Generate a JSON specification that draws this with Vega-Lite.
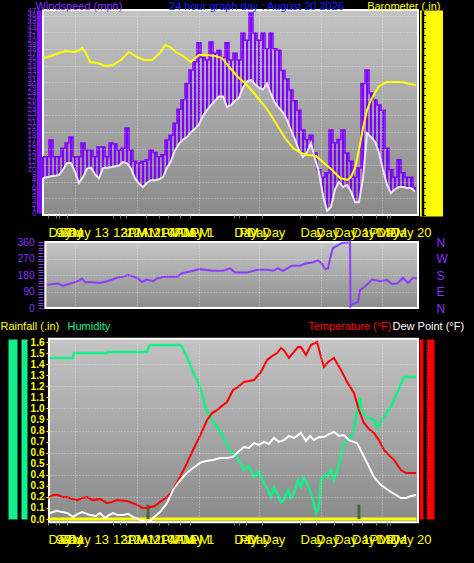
{
"$schema": "https://vega.github.io/schema/vega-lite/v6.json",
"width": 375, "height": 563,
"autosize": "none",
"padding": {"left": 43, "right": 56, "top": 0, "bottom": 0},
"background": "#000000",
"config": {"view": {"stroke": null}, "axis": {"labelFont": "Liberation Sans", "titleFont": "Liberation Sans", "titleFontWeight": "normal", "labelOverlap": false, "labelFlush": false, "labelBound": false, "grid": false}},
"datasets": {
"wind": [
{"h":0,"avg":8.1,"gust":13},{"h":0.26,"avg":8.3,"gust":13},{"h":0.51,"avg":8.5,"gust":16.9},{"h":0.77,"avg":8.6,"gust":13},{"h":1.02,"avg":8.8,"gust":13},{"h":1.28,"avg":10,"gust":15},{"h":1.54,"avg":11.6,"gust":16.2},{"h":1.79,"avg":11.6,"gust":17.6},{"h":2.05,"avg":9.5,"gust":13},{"h":2.3,"avg":7,"gust":13},{"h":2.56,"avg":8.3,"gust":16.2},{"h":2.82,"avg":10.3,"gust":14.6},{"h":3.07,"avg":10.5,"gust":14.6},{"h":3.33,"avg":9,"gust":13},{"h":3.58,"avg":8,"gust":15.3},{"h":3.84,"avg":10.4,"gust":15.3},{"h":4.1,"avg":10.5,"gust":13},{"h":4.35,"avg":10.6,"gust":16.2},{"h":4.61,"avg":10.8,"gust":16},{"h":4.86,"avg":11,"gust":14.6},{"h":5.12,"avg":11.8,"gust":15},{"h":5.38,"avg":11.5,"gust":19.7},{"h":5.63,"avg":10.3,"gust":14.6},{"h":5.89,"avg":8,"gust":12},{"h":6.14,"avg":6.8,"gust":11.6},{"h":6.4,"avg":6,"gust":12},{"h":6.66,"avg":7,"gust":12.3},{"h":6.91,"avg":7.6,"gust":14.6},{"h":7.17,"avg":7.6,"gust":14},{"h":7.42,"avg":7.8,"gust":13},{"h":7.68,"avg":8.3,"gust":13.5},{"h":7.94,"avg":10.5,"gust":16.9},{"h":8.19,"avg":12,"gust":18},{"h":8.45,"avg":14.5,"gust":20.8},{"h":8.7,"avg":16,"gust":24},{"h":8.96,"avg":17,"gust":26.2},{"h":9.22,"avg":17.6,"gust":30},{"h":9.47,"avg":18.7,"gust":33.1},{"h":9.73,"avg":19.5,"gust":35},{"h":9.98,"avg":20.5,"gust":39.4},{"h":10.24,"avg":22.5,"gust":36},{"h":10.5,"avg":23.8,"gust":35.4},{"h":10.75,"avg":25,"gust":39.6},{"h":11.01,"avg":26,"gust":37},{"h":11.26,"avg":27,"gust":37.7},{"h":11.52,"avg":27,"gust":36},{"h":11.78,"avg":24.5,"gust":39.4},{"h":12.03,"avg":25,"gust":35.4},{"h":12.29,"avg":26,"gust":37},{"h":12.54,"avg":26.7,"gust":35.4},{"h":12.8,"avg":29,"gust":41.7},{"h":13.06,"avg":30.5,"gust":40},{"h":13.31,"avg":30.8,"gust":46.3},{"h":13.57,"avg":29.8,"gust":41.7},{"h":13.82,"avg":29,"gust":40},{"h":14.08,"avg":28.6,"gust":41.7},{"h":14.34,"avg":30,"gust":38},{"h":14.59,"avg":27.5,"gust":41.7},{"h":14.85,"avg":25.5,"gust":38},{"h":15.1,"avg":24.3,"gust":37.7},{"h":15.36,"avg":23.3,"gust":33},{"h":15.62,"avg":21.5,"gust":31},{"h":15.87,"avg":19.2,"gust":28.5},{"h":16.13,"avg":17,"gust":26},{"h":16.38,"avg":14.5,"gust":23.8},{"h":16.64,"avg":13,"gust":19.2},{"h":16.9,"avg":14,"gust":17},{"h":17.15,"avg":16.2,"gust":18},{"h":17.41,"avg":12.5,"gust":13.9},{"h":17.66,"avg":9.5,"gust":10},{"h":17.92,"avg":4,"gust":8.3},{"h":18.18,"avg":0.5,"gust":9.3},{"h":18.43,"avg":1.4,"gust":19.2},{"h":18.69,"avg":5.5,"gust":16.2},{"h":18.94,"avg":7.2,"gust":17},{"h":19.2,"avg":6,"gust":19.2},{"h":19.46,"avg":6.5,"gust":13.9},{"h":19.71,"avg":5,"gust":12},{"h":19.97,"avg":2.5,"gust":8.3},{"h":20.22,"avg":2.5,"gust":10.5},{"h":20.48,"avg":8,"gust":30},{"h":20.74,"avg":18.5,"gust":33.1},{"h":20.99,"avg":17.6,"gust":27.8},{"h":21.25,"avg":16.5,"gust":26.2},{"h":21.5,"avg":14,"gust":25},{"h":21.76,"avg":10,"gust":23.8},{"h":22.02,"avg":6.5,"gust":15},{"h":22.27,"avg":4.6,"gust":10},{"h":22.53,"avg":5.5,"gust":8.3},{"h":22.78,"avg":6,"gust":12.3},{"h":23.04,"avg":6,"gust":9.3},{"h":23.3,"avg":5.8,"gust":8.3},{"h":23.55,"avg":5.8,"gust":8.3},{"h":23.81,"avg":5,"gust":6}
],
"baro": [
{"h":0,"b":29.871},{"h":0.51,"b":29.877},{"h":1.02,"b":29.886},{"h":1.47,"b":29.892},{"h":1.98,"b":29.889},{"h":2.37,"b":29.895},{"h":2.5,"b":29.901},{"h":2.75,"b":29.886},{"h":3.01,"b":29.859},{"h":3.52,"b":29.856},{"h":3.97,"b":29.847},{"h":4.48,"b":29.85},{"h":4.99,"b":29.865},{"h":5.5,"b":29.889},{"h":6.02,"b":29.874},{"h":6.46,"b":29.865},{"h":6.98,"b":29.865},{"h":7.49,"b":29.886},{"h":7.81,"b":29.91},{"h":8.13,"b":29.904},{"h":8.51,"b":29.889},{"h":8.96,"b":29.877},{"h":9.47,"b":29.859},{"h":9.98,"b":29.88},{"h":10.5,"b":29.88},{"h":11.01,"b":29.877},{"h":11.46,"b":29.871},{"h":11.97,"b":29.841},{"h":12.48,"b":29.814},{"h":12.99,"b":29.793},{"h":13.5,"b":29.766},{"h":14.02,"b":29.736},{"h":14.46,"b":29.709},{"h":14.98,"b":29.67},{"h":15.49,"b":29.631},{"h":16,"b":29.601},{"h":16.51,"b":29.586},{"h":16.96,"b":29.58},{"h":17.47,"b":29.577},{"h":17.98,"b":29.556},{"h":18.5,"b":29.535},{"h":19.01,"b":29.511},{"h":19.46,"b":29.505},{"h":19.71,"b":29.514},{"h":19.97,"b":29.541},{"h":20.22,"b":29.595},{"h":20.48,"b":29.661},{"h":20.74,"b":29.715},{"h":20.99,"b":29.745},{"h":21.5,"b":29.787},{"h":22.02,"b":29.799},{"h":22.46,"b":29.799},{"h":22.98,"b":29.799},{"h":23.49,"b":29.793},{"h":23.87,"b":29.79}
],
"dir": [
{"h":0.26,"d":127},{"h":0.96,"d":133},{"h":1.28,"d":121},{"h":1.86,"d":136},{"h":2.37,"d":152},{"h":2.5,"d":161},{"h":2.69,"d":140},{"h":3.2,"d":140},{"h":3.65,"d":136},{"h":4.1,"d":146},{"h":4.74,"d":165},{"h":5.12,"d":171},{"h":5.44,"d":180},{"h":6.02,"d":165},{"h":6.34,"d":142},{"h":6.66,"d":155},{"h":7.04,"d":146},{"h":7.3,"d":161},{"h":7.81,"d":171},{"h":8.58,"d":171},{"h":8.9,"d":190},{"h":9.6,"d":203},{"h":10.05,"d":212},{"h":10.88,"d":203},{"h":11.52,"d":203},{"h":11.97,"d":216},{"h":12.29,"d":193},{"h":13.06,"d":193},{"h":13.7,"d":208},{"h":14.34,"d":208},{"h":14.72,"d":203},{"h":15.04,"d":216},{"h":15.36,"d":203},{"h":15.94,"d":231},{"h":16.45,"d":231},{"h":16.77,"d":241},{"h":17.28,"d":250},{"h":17.6,"d":260},{"h":17.86,"d":241},{"h":18.05,"d":212},{"h":18.24,"d":216},{"h":18.37,"d":269},{"h":18.56,"d":326},{"h":19.14,"d":355},{"h":19.65,"d":358},{"h":19.68,"d":8},{"h":19.84,"d":23},{"h":20.16,"d":32},{"h":20.29,"d":99},{"h":20.61,"d":117},{"h":21.06,"d":155},{"h":21.57,"d":146},{"h":22.02,"d":152},{"h":22.34,"d":131},{"h":22.66,"d":133},{"h":23.04,"d":165},{"h":23.36,"d":136},{"h":23.68,"d":165},{"h":23.94,"d":161}
],
"hum": [
{"h":0.45,"rh":90.5},{"h":1.92,"rh":90.5},{"h":1.98,"rh":93},{"h":4.1,"rh":93},{"h":4.16,"rh":93.5},{"h":6.66,"rh":93.5},{"h":6.72,"rh":95},{"h":6.85,"rh":97},{"h":8.77,"rh":97},{"h":8.9,"rh":96},{"h":9.22,"rh":91},{"h":9.54,"rh":84.5},{"h":9.86,"rh":79.5},{"h":10.18,"rh":73},{"h":10.37,"rh":66},{"h":10.69,"rh":61},{"h":11.14,"rh":56},{"h":11.52,"rh":51},{"h":11.97,"rh":44.5},{"h":12.42,"rh":40.5},{"h":12.61,"rh":38},{"h":12.86,"rh":34.5},{"h":13.18,"rh":36.5},{"h":13.5,"rh":31},{"h":13.82,"rh":33.5},{"h":14.14,"rh":28},{"h":14.4,"rh":24.5},{"h":14.59,"rh":21},{"h":14.78,"rh":25.5},{"h":14.98,"rh":23},{"h":15.23,"rh":18.5},{"h":15.42,"rh":19.5},{"h":15.68,"rh":24.5},{"h":15.87,"rh":20.5},{"h":16.06,"rh":23},{"h":16.32,"rh":29.5},{"h":16.51,"rh":26},{"h":16.7,"rh":30.5},{"h":16.9,"rh":28},{"h":17.09,"rh":24.5},{"h":17.22,"rh":21},{"h":17.47,"rh":13},{"h":17.66,"rh":16},{"h":17.79,"rh":29.5},{"h":17.98,"rh":32},{"h":18.18,"rh":31},{"h":18.43,"rh":34.5},{"h":18.62,"rh":29.5},{"h":18.82,"rh":34.5},{"h":19.07,"rh":41},{"h":19.26,"rh":48},{"h":19.71,"rh":51},{"h":19.9,"rh":54.5},{"h":20.03,"rh":61},{"h":20.29,"rh":70.5},{"h":20.42,"rh":63},{"h":20.74,"rh":61},{"h":21.18,"rh":59.5},{"h":21.38,"rh":55.5},{"h":21.7,"rh":59.5},{"h":22.27,"rh":66},{"h":22.66,"rh":73},{"h":23.1,"rh":81},{"h":23.74,"rh":81},{"h":23.87,"rh":81}
],
"temp": [
{"h":0.32,"t":57},{"h":0.64,"t":58},{"h":0.96,"t":58},{"h":1.28,"t":57.3},{"h":1.54,"t":57.3},{"h":1.86,"t":56.7},{"h":2.18,"t":56.3},{"h":2.5,"t":57},{"h":2.82,"t":57.3},{"h":3.2,"t":56.3},{"h":3.65,"t":56.7},{"h":4.1,"t":55.3},{"h":4.42,"t":55.7},{"h":4.74,"t":56.3},{"h":5.38,"t":56},{"h":6.02,"t":54.7},{"h":6.4,"t":53.7},{"h":6.66,"t":53.7},{"h":6.85,"t":54},{"h":7.17,"t":54.3},{"h":7.49,"t":55.7},{"h":7.94,"t":57.3},{"h":8.32,"t":59.7},{"h":8.77,"t":64},{"h":9.22,"t":68.7},{"h":9.6,"t":73},{"h":10.05,"t":77.7},{"h":10.5,"t":83},{"h":10.82,"t":85.3},{"h":11.14,"t":86.3},{"h":11.46,"t":87.7},{"h":11.78,"t":89},{"h":12.16,"t":93},{"h":12.48,"t":94},{"h":12.86,"t":95.7},{"h":13.5,"t":96.3},{"h":13.95,"t":99},{"h":14.34,"t":103},{"h":14.66,"t":104.3},{"h":14.98,"t":105.3},{"h":15.23,"t":107},{"h":15.42,"t":106.3},{"h":15.74,"t":103.7},{"h":16.06,"t":105.7},{"h":16.32,"t":107.3},{"h":16.51,"t":107.3},{"h":16.83,"t":104.7},{"h":17.15,"t":108},{"h":17.54,"t":109},{"h":17.79,"t":104},{"h":17.98,"t":100.7},{"h":18.24,"t":102.3},{"h":18.43,"t":103},{"h":18.62,"t":103.7},{"h":19.07,"t":99.7},{"h":19.46,"t":95.7},{"h":19.9,"t":92},{"h":20.22,"t":86.3},{"h":20.54,"t":82},{"h":20.86,"t":80},{"h":21.18,"t":78.7},{"h":21.5,"t":76.3},{"h":21.82,"t":73},{"h":22.14,"t":71.3},{"h":22.46,"t":69.7},{"h":22.91,"t":66.3},{"h":23.23,"t":65.3},{"h":23.87,"t":65.3}
],
"dew": [
{"h":0.45,"dp":52},{"h":0.9,"dp":52.7},{"h":1.22,"dp":52.3},{"h":1.54,"dp":52},{"h":1.92,"dp":50.7},{"h":2.24,"dp":51.7},{"h":2.5,"dp":52.3},{"h":3.01,"dp":51.3},{"h":3.39,"dp":51},{"h":3.65,"dp":52},{"h":3.97,"dp":50.3},{"h":4.22,"dp":51.3},{"h":4.48,"dp":52},{"h":4.8,"dp":51.3},{"h":5.12,"dp":51.3},{"h":5.44,"dp":51.7},{"h":5.76,"dp":50.7},{"h":6.21,"dp":49.7},{"h":6.66,"dp":49},{"h":6.85,"dp":49.3},{"h":7.04,"dp":50.3},{"h":7.49,"dp":52.3},{"h":7.94,"dp":55.3},{"h":8.32,"dp":59.7},{"h":8.64,"dp":62},{"h":8.96,"dp":64},{"h":9.28,"dp":65.7},{"h":9.6,"dp":67},{"h":10.05,"dp":68.7},{"h":10.43,"dp":69.3},{"h":10.88,"dp":69.7},{"h":11.33,"dp":70.3},{"h":11.78,"dp":70.3},{"h":12.16,"dp":70.7},{"h":12.48,"dp":72.3},{"h":12.86,"dp":74},{"h":13.18,"dp":73.7},{"h":13.5,"dp":75.3},{"h":13.82,"dp":74.7},{"h":14.14,"dp":75.7},{"h":14.46,"dp":75},{"h":14.78,"dp":77},{"h":15.1,"dp":75.7},{"h":15.42,"dp":76.3},{"h":15.74,"dp":77.7},{"h":16.06,"dp":77},{"h":16.51,"dp":78.7},{"h":16.83,"dp":76},{"h":17.09,"dp":77.7},{"h":17.34,"dp":76.3},{"h":17.66,"dp":77.3},{"h":17.98,"dp":77.3},{"h":18.3,"dp":78.3},{"h":18.62,"dp":79},{"h":18.94,"dp":77.7},{"h":19.26,"dp":78},{"h":19.58,"dp":76.3},{"h":20.1,"dp":75.3},{"h":20.42,"dp":72},{"h":20.74,"dp":68.7},{"h":21.18,"dp":64},{"h":21.63,"dp":61.3},{"h":22.27,"dp":59},{"h":22.91,"dp":57},{"h":23.23,"dp":57},{"h":23.55,"dp":57.7},{"h":23.87,"dp":58}
],
"rain": [{"h":0.4,"r":0},{"h":23.9,"r":0}],
"rainrate": [{"h":6.72,"r":0.13},{"h":20.22,"r":0.13}]
},
"layer": [
{"data": {"values": [{}]},
"mark": {"type": "rect", "fill": {"gradient": "linear", "x1": 0, "y1": 0, "x2": 0, "y2": 1, "stops": [{"offset": 0, "color": "#c3c3c3"}, {"offset": 1, "color": "#8a8a8a"}]}, "stroke": "#ffffff", "strokeWidth": 2},
"encoding": {
"x": {"datum": 0, "type": "quantitative", "scale": {"domain": [0, 24], "nice": false, "zero": false},
"axis": {"orient": "bottom", "offset": -348, "values": [0.32,0.8,1.05,1.55,4.45,4.95,5.3,6.6,7.45,8,8.75,9.4,12.2,12.55,13,14,16.45,17.45,18.6,19.75,20.4,21.3,22,22.2], "labelExpr": "['Day','9PM','Day','Day 13','12AM','3PM','12AM','12PM','10PM','4AM','Day 1','PM','Day','PM','Day','Day','Day','Day','Day','Day','1PM','Day','PM','Day 20'][indexof([0.32,0.8,1.05,1.55,4.45,4.95,5.3,6.6,7.45,8,8.75,9.4,12.2,12.55,13,14,16.45,17.45,18.6,19.75,20.4,21.3,22,22.2], datum.value)]", "labelColor": "#ffff00", "labelFontSize": 13, "labelAlign": "left", "labelBaseline": "top", "labelPadding": 8, "ticks": true, "tickColor": "#808080", "tickSize": 3, "domain": false, "grid": false, "title": null, "zindex": 1}},
"x2": {"datum": 24},
"y": {"datum": 0, "type": "quantitative", "scale": {"domain": [0, 12.35], "range": [215, 10], "nice": false, "zero": false},
"axis": {"orient": "left", "values": [1,2,3,4,5,6,7,8,9,10,11,12], "labels": false, "ticks": false, "domain": false, "grid": true, "gridColor": "#ffffff", "gridOpacity": 0.5, "gridDash": [1, 2], "title": "24 hour graph day : August 20 2026", "titleAngle": 0, "titleX": 213, "titleY": 6, "titleAlign": "center", "titleBaseline": "middle", "titleColor": "#1c1cff", "titleFontSize": 11, "zindex": 1}},
"y2": {"datum": 12.35}
}},
{"data": {"name": "wind"},
"mark": {"type": "rule", "color": "#8000ff", "strokeWidth": 2.2},
"encoding": {
"x": {"field": "h", "type": "quantitative", "scale": {"domain": [0, 24], "nice": false, "zero": false},
"axis": {"orient": "top", "offset": 0, "values": [2.05,6.02,10,13.85,17.8,21.7], "labels": false, "ticks": false, "domain": false, "grid": true, "gridColor": "#ffffff", "gridOpacity": 0.5, "gridDash": [1, 2], "title": null, "zindex": 1}},
"y": {"field": "avg", "type": "quantitative", "scale": {"domain": [0, 47], "range": [213, 10], "nice": false, "zero": false},
"axis": {"orient": "left", "offset": 4, "tickCount": 47, "labelColor": "#8a30ff", "labelFontSize": 8, "labelPadding": 3, "ticks": false, "domain": true, "domainColor": "#7a10ff", "domainWidth": 5, "grid": false, "title": "Windspeed (mph)", "titleAngle": 0, "titleX": -4, "titleY": 6, "titleAlign": "left", "titleBaseline": "middle", "titleColor": "#8a30ff", "titleFontSize": 11, "zindex": 1}},
"y2": {"field": "gust"}}},
{"data": {"name": "wind"},
"mark": {"type": "line", "color": "#8000ff", "strokeWidth": 1.5, "interpolate": "step"},
"encoding": {
"x": {"field": "h", "type": "quantitative", "scale": {"domain": [0, 24], "nice": false, "zero": false}, "axis": null},
"y": {"field": "gust", "type": "quantitative", "scale": {"domain": [0, 47], "range": [213, 10], "nice": false, "zero": false}, "axis": null}}},
{"data": {"name": "wind"},
"mark": {"type": "line", "color": "#ece6f8", "strokeWidth": 2},
"encoding": {
"x": {"field": "h", "type": "quantitative", "scale": {"domain": [0, 24], "nice": false, "zero": false}, "axis": null},
"y": {"field": "avg", "type": "quantitative", "scale": {"domain": [0, 47], "range": [213, 10], "nice": false, "zero": false}, "axis": null}}},
{"data": {"name": "baro"},
"mark": {"type": "line", "color": "#ffff00", "strokeWidth": 2},
"encoding": {
"x": {"field": "h", "type": "quantitative", "scale": {"domain": [0, 24], "nice": false, "zero": false}, "axis": null},
"y": {"field": "b", "type": "quantitative", "scale": {"domain": [29.397, 30.015], "range": [216, 10], "nice": false, "zero": false},
"axis": {"orient": "right", "offset": 13, "domainColor": "#ffff00", "domainWidth": 23, "ticks": false, "labels": false, "grid": false, "title": "Barometer (.in)", "titleAngle": 0, "titleX": 9, "titleY": 6, "titleAlign": "right", "titleBaseline": "middle", "titleColor": "#ffff00", "titleFontSize": 11, "zindex": 1}}
}},
{"data": {"name": "baro"},
"mark": {"type": "line", "color": "#ffff00", "opacity": 0},
"encoding": {
"x": {"field": "h", "type": "quantitative", "scale": {"domain": [0, 24], "nice": false, "zero": false}, "axis": null},
"y": {"field": "b", "type": "quantitative", "scale": {"domain": [29.397, 30.015], "range": [216, 10], "nice": false, "zero": false},
"axis": {"orient": "right", "offset": 4.5, "domainColor": "#000000", "domainWidth": 2.5, "tickCount": 40, "ticks": true, "tickColor": "#000000", "tickSize": 3, "tickWidth": 1, "labels": false, "grid": false, "title": null, "zindex": 3}}
}},
{"data": {"values": [{}]},
"mark": {"type": "rect", "fill": {"gradient": "linear", "x1": 0, "y1": 0, "x2": 0, "y2": 1, "stops": [{"offset": 0, "color": "#c6c6c6"}, {"offset": 1, "color": "#8c8c8c"}]}, "stroke": "#ffffff", "strokeWidth": 2},
"encoding": {
"x": {"datum": 0.15, "type": "quantitative", "scale": {"domain": [0, 24], "nice": false, "zero": false},
"axis": {"orient": "top", "offset": 0, "values": [2.05,6.02,10,13.85,17.8,21.7], "labels": false, "ticks": false, "domain": false, "grid": true, "gridColor": "#ffffff", "gridOpacity": 0.5, "gridDash": [1, 2], "title": null, "zindex": 1}},
"x2": {"datum": 24},
"y": {"datum": 0, "type": "quantitative", "scale": {"domain": [0, 360], "range": [308, 242], "nice": false, "zero": false},
"axis": {"orient": "right", "values": [0, 90, 180, 270, 360], "labelExpr": "['N','E','S','W','N'][datum.value/90]", "labelColor": "#8a30ff", "labelFontSize": 12, "labelPadding": 18, "labelAlign": "left", "ticks": false, "domain": false, "grid": true, "gridColor": "#ffffff", "gridOpacity": 0.5, "gridDash": [1, 2], "title": null, "zindex": 1}},
"y2": {"datum": 360}
}},
{"data": {"name": "dir"},
"mark": {"type": "line", "color": "#8c3cff", "strokeWidth": 2},
"encoding": {
"x": {"field": "h", "type": "quantitative", "scale": {"domain": [0, 24], "nice": false, "zero": false}, "axis": null},
"y": {"field": "d", "type": "quantitative", "scale": {"domain": [0, 360], "range": [308, 242], "nice": false, "zero": false},
"axis": {"orient": "left", "values": [0,15,30,45,60,75,90,105,120,135,150,165,180,195,210,225,240,255,270,285,300,315,330,345,360], "labelExpr": "datum.value % 90 == 0 ? datum.label : ''", "labelColor": "#8a30ff", "labelFontSize": 10, "labelPadding": 4, "ticks": true, "tickColor": "#8a30ff", "tickSize": 5, "domain": false, "grid": false, "title": null, "zindex": 1}}
}},
{"data": {"values": [{}]},
"mark": {"type": "rect", "fill": {"gradient": "linear", "x1": 0, "y1": 0, "x2": 0, "y2": 1, "stops": [{"offset": 0, "color": "#c3c3c3"}, {"offset": 1, "color": "#8a8a8a"}]}, "stroke": "#ffffff", "strokeWidth": 2},
"encoding": {
"x": {"datum": 0.38, "type": "quantitative", "scale": {"domain": [0, 24], "nice": false, "zero": false},
"axis": {"orient": "bottom", "offset": -41, "values": [0.32,0.8,1.05,1.55,4.45,4.95,5.3,6.6,7.45,8,8.75,9.4,12.2,12.55,13,14,16.45,17.45,18.6,19.75,20.4,21.3,22,22.2], "labelExpr": "['Day','9PM','Day','Day 13','12AM','3PM','12AM','12PM','10PM','4AM','Day 1','PM','Day','PM','Day','Day','Day','Day','Day','Day','1PM','Day','PM','Day 20'][indexof([0.32,0.8,1.05,1.55,4.45,4.95,5.3,6.6,7.45,8,8.75,9.4,12.2,12.55,13,14,16.45,17.45,18.6,19.75,20.4,21.3,22,22.2], datum.value)]", "labelColor": "#ffff00", "labelFontSize": 13, "labelAlign": "left", "labelBaseline": "top", "labelPadding": 8, "ticks": true, "tickColor": "#808080", "tickSize": 3, "domain": false, "grid": false, "title": null, "zindex": 1}},
"x2": {"datum": 24},
"y": {"datum": -0.03, "type": "quantitative", "scale": {"domain": [0, 1.6], "range": [519, 342], "nice": false, "zero": false},
"axis": {"orient": "left", "offset": -6, "values": [0,0.1,0.2,0.3,0.4,0.5,0.6,0.7,0.8,0.9,1,1.1,1.2,1.3,1.4,1.5,1.6], "labelColor": "#ffff00", "labelFontSize": 10, "labelFontWeight": "bold", "labelPadding": 2, "ticks": true, "tickColor": "#ffff00", "tickSize": 3, "domain": false, "grid": false, "title": "Rainfall (.in)", "titleAngle": 0, "titleX": -49, "titleY": 326, "titleAlign": "left", "titleBaseline": "middle", "titleColor": "#ffff00", "titleFontSize": 11, "zindex": 1}},
"y2": {"datum": 1.63}
}},
{"data": {"name": "rain"},
"mark": {"type": "line", "color": "#ffff00", "strokeWidth": 3},
"encoding": {
"x": {"field": "h", "type": "quantitative", "scale": {"domain": [0, 24], "nice": false, "zero": false},
"axis": {"orient": "top", "offset": 0, "values": [2.05,6.02,10,13.85,17.8,21.7], "labels": false, "ticks": false, "domain": false, "grid": true, "gridColor": "#ffffff", "gridOpacity": 0.5, "gridDash": [1, 2], "title": null, "zindex": 1}},
"y": {"field": "r", "type": "quantitative", "scale": {"domain": [0, 1.6], "range": [519, 342], "nice": false, "zero": false},
"axis": {"orient": "left", "offset": 0, "values": [0.2,0.4,0.6,0.8,1,1.2,1.4,1.6], "labels": false, "ticks": false, "domain": false, "grid": true, "gridColor": "#ffffff", "gridOpacity": 0.5, "gridDash": [1, 2], "title": null, "zindex": 1}}}},
{"data": {"name": "rainrate"},
"mark": {"type": "rule", "color": "#3c6e3c", "strokeWidth": 3},
"encoding": {
"x": {"field": "h", "type": "quantitative", "scale": {"domain": [0, 24], "nice": false, "zero": false}, "axis": null},
"y": {"field": "r", "type": "quantitative", "scale": {"domain": [0, 1.6], "range": [519, 342], "nice": false, "zero": false}, "axis": null},
"y2": {"datum": 0}}},
{"data": {"name": "hum"},
"mark": {"type": "line", "color": "#14f088", "strokeWidth": 2.5},
"encoding": {
"x": {"field": "h", "type": "quantitative", "scale": {"domain": [0, 24], "nice": false, "zero": false}, "axis": null},
"y": {"field": "rh", "type": "quantitative", "scale": {"domain": [10, 100], "range": [519, 339], "nice": false, "zero": false},
"axis": {"orient": "left", "offset": 30.5, "domainColor": "#14f088", "domainWidth": 9, "ticks": false, "labels": false, "grid": false, "title": "Humidity", "titleAngle": 0, "titleX": 54.5, "titleY": 326, "titleAlign": "left", "titleBaseline": "middle", "titleColor": "#14f088", "titleFontSize": 11, "zindex": 1}}
}},
{"data": {"name": "hum"},
"mark": {"type": "line", "color": "#14f088", "opacity": 0},
"encoding": {
"x": {"field": "h", "type": "quantitative", "scale": {"domain": [0, 24], "nice": false, "zero": false}, "axis": null},
"y": {"field": "rh", "type": "quantitative", "scale": {"domain": [10, 100], "range": [519, 339], "nice": false, "zero": false},
"axis": {"orient": "left", "offset": 19, "domainColor": "#14f088", "domainWidth": 6, "ticks": false, "labels": false, "grid": false, "title": null, "zindex": 1}}
}},
{"data": {"name": "temp"},
"mark": {"type": "line", "color": "#ff0000", "strokeWidth": 2},
"encoding": {
"x": {"field": "h", "type": "quantitative", "scale": {"domain": [0, 24], "nice": false, "zero": false}, "axis": null},
"y": {"field": "t", "type": "quantitative", "scale": {"domain": [50, 110], "range": [519, 339], "nice": false, "zero": false},
"axis": {"orient": "right", "offset": 8.5, "domainColor": "#ff0000", "domainWidth": 15, "ticks": false, "labels": false, "grid": false, "title": "Temperature (°F)", "titleAngle": 0, "titleX": -35.5, "titleY": 326, "titleAlign": "right", "titleBaseline": "middle", "titleColor": "#ff0000", "titleFontSize": 11, "zindex": 1}}
}},
{"data": {"name": "temp"},
"mark": {"type": "line", "color": "#ff0000", "opacity": 0},
"encoding": {
"x": {"field": "h", "type": "quantitative", "scale": {"domain": [0, 24], "nice": false, "zero": false}, "axis": null},
"y": {"field": "t", "type": "quantitative", "scale": {"domain": [50, 110], "range": [519, 339], "nice": false, "zero": false},
"axis": {"orient": "right", "offset": 6.5, "domainColor": "#000000", "domainWidth": 3, "tickCount": 45, "ticks": true, "tickColor": "#000000", "tickSize": 3, "tickWidth": 1, "labels": false, "grid": false, "title": null, "zindex": 3}}
}},
{"data": {"name": "dew"},
"mark": {"type": "line", "color": "#ffffff", "strokeWidth": 2},
"encoding": {
"x": {"field": "h", "type": "quantitative", "scale": {"domain": [0, 24], "nice": false, "zero": false}, "axis": null},
"y": {"field": "dp", "type": "quantitative", "scale": {"domain": [50, 110], "range": [519, 339], "nice": false, "zero": false},
"axis": {"orient": "right", "offset": 0, "domain": false, "ticks": false, "labels": false, "grid": false, "title": "Dew Point (°F)", "titleAngle": 0, "titleX": -26, "titleY": 326, "titleAlign": "left", "titleBaseline": "middle", "titleColor": "#ffffff", "titleFontSize": 11, "zindex": 1}}
}}
],
"resolve": {"scale": {"x": "independent", "y": "independent"}, "axis": {"x": "independent", "y": "independent"}}
}
